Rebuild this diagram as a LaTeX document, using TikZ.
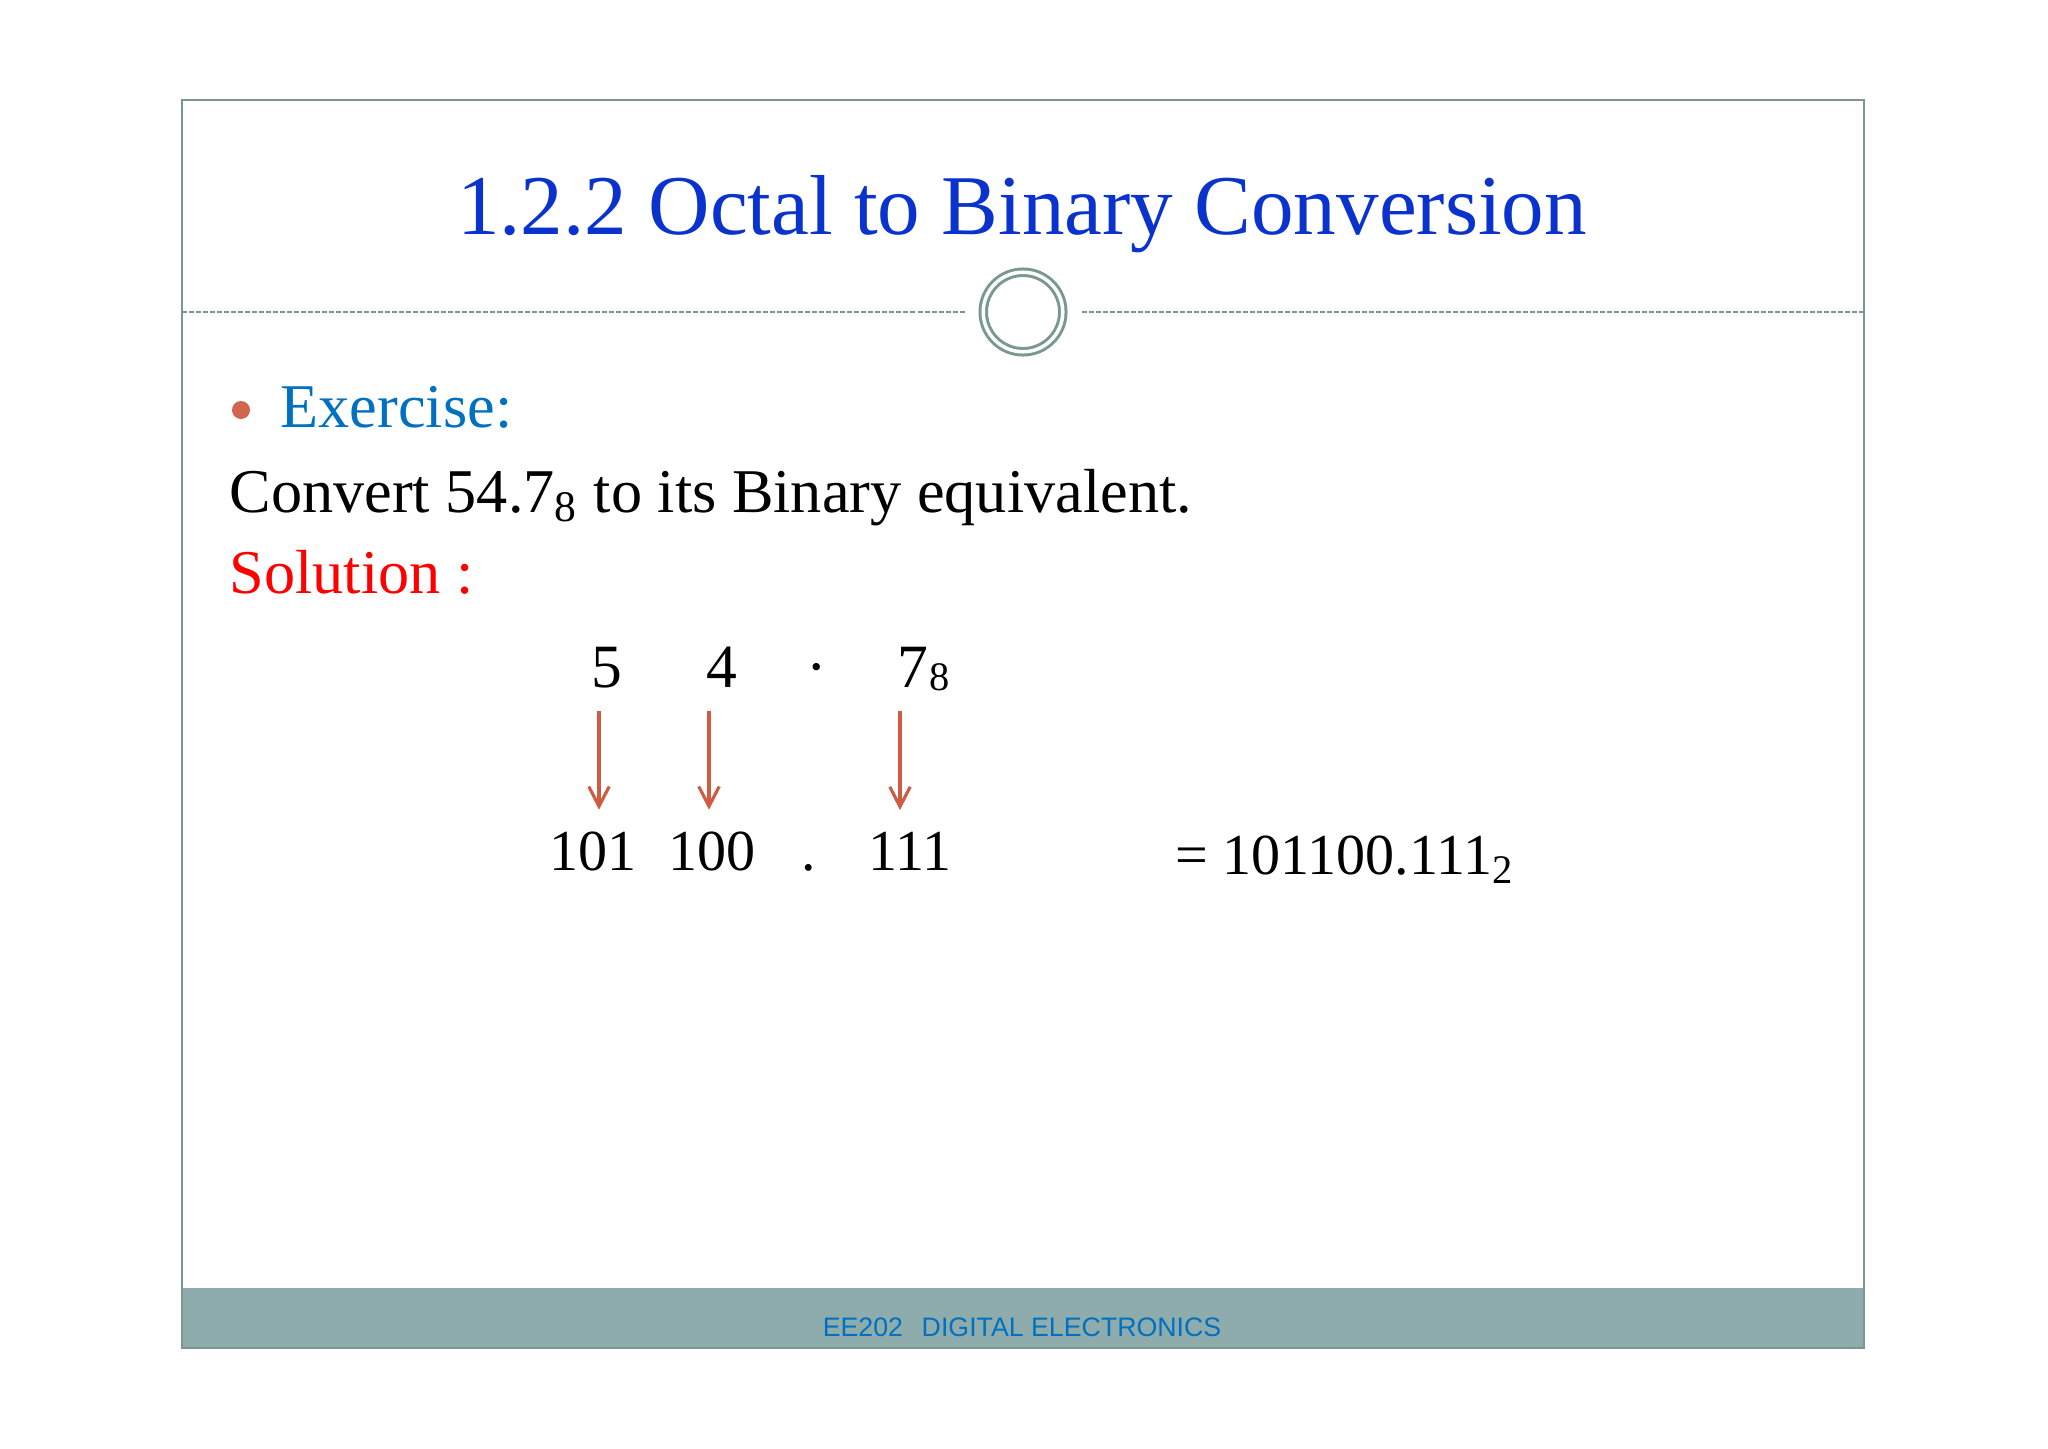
\documentclass[tikz,border=0pt]{standalone}
\usepackage{fontspec}
\setmainfont{Liberation Serif}
\setsansfont{Liberation Sans}
\usetikzlibrary{arrows.meta, positioning, calc}

\definecolor{framegray}{RGB}{122,152,145}
\definecolor{footgray}{RGB}{143,172,172}
\definecolor{titleblue}{RGB}{10,50,205}
\definecolor{exblue}{RGB}{0,112,192}
\definecolor{bulletred}{RGB}{209,102,78}
\definecolor{arrowred}{RGB}{206,92,66}

\begin{document}
\begin{tikzpicture}[x=0.01cm, y=-0.01cm,
        slide_text/.style={inner sep=0pt, anchor=base west, font=\fontsize{17.7}{21}\selectfont},
        top_digit/.style={inner sep=0pt, anchor=base, font=\fontsize{17.5}{21}\selectfont},
        bin_digit/.style={inner sep=0pt, anchor=base, font=\fontsize{16.5}{20}\selectfont},
        dash_line/.style={draw=framegray, line width=0.45pt, dash pattern=on 0.05cm off 0.02cm},
        conv_arrow/.style={-{Straight Barb[length=5.6pt,width=5.8pt]}, draw=arrowred, line width=0.9pt,
            shorten <=0.23cm, shorten >=0.21cm}]

        \useasboundingbox (0,0) rectangle (2048,1448);

        % Slide frame and footer band
        \fill[footgray] (182,1288) rectangle (1864,1348);
        \draw[framegray, line width=0.6pt] (182,100) rectangle (1864,1348);
        \node[inner sep=0pt, anchor=base, text=exblue, font=\sffamily\fontsize{7.6}{9}\selectfont] (footer)
            at (1022,1336) {EE202\hspace{0.7em}DIGITAL ELECTRONICS};

        % Title and separator ring
        \node[inner sep=0pt, anchor=base, text=titleblue, font=\fontsize{24.2}{29}\selectfont] (title)
            at (1022,234) {1.2.2 Octal to Binary Conversion};
        \node[circle, draw=framegray, double=white, line width=0.03cm, double distance=0.035cm,
            inner sep=0pt, outer sep=0pt, minimum size=0.795cm] (ring) at (1023,312) {};
        \coordinate (sep_left) at (182,312);
        \coordinate (sep_right) at (1864,312);
        \draw[dash_line] (sep_left) -- ([xshift=-0.17cm]ring.west);
        \draw[dash_line] ([xshift=0.19cm]ring.east) -- (sep_right);

        % Exercise text
        \node[circle, fill=bulletred, inner sep=0pt, minimum size=0.18cm] (bullet) at (241,410) {};
        \node[slide_text, text=exblue] (exercise) at (280,427) {Exercise:};
        \node[slide_text] (question) at (229,512) {Convert 54.7\textsubscript{8} to its Binary equivalent.};
        \node[slide_text, text=red] (solution) at (229,593) {Solution :};

        % Octal digits
        \node[top_digit] (d5) at (607,687) {5};
        \node[top_digit] (d4) at (722,687) {4};
        \node[top_digit] (dpt) at (817,687) {·};
        \node[top_digit] (d7) at (913,687) {7};
        \node[inner sep=0pt, anchor=base west, font=\fontsize{11.5}{14}\selectfont] (d7sub)
            at ([yshift=-0.03cm]d7.base east) {8};

        % Binary groups
        \node[bin_digit] (b5) at (593,870) {101};
        \node[bin_digit] (b4) at (712,870) {100};
        \node[bin_digit] (bpt) at (809,870) {.};
        \node[bin_digit] (b7) at (910,870) {111};
        \node[inner sep=0pt, anchor=base west, font=\fontsize{16.5}{20}\selectfont] (result)
            at (1175,874) {= 101100.111\textsubscript{2}};

        % Conversion arrows
        \foreach \oct/\bin/\dx in {d5/b5/-0.08, d4/b4/-0.13, d7/b7/-0.13}
            \draw[conv_arrow] ([xshift=\dx cm]\oct.south) -- ([xshift=\dx cm]\oct.south |- \bin.north);
    \end{tikzpicture}
\end{document}
